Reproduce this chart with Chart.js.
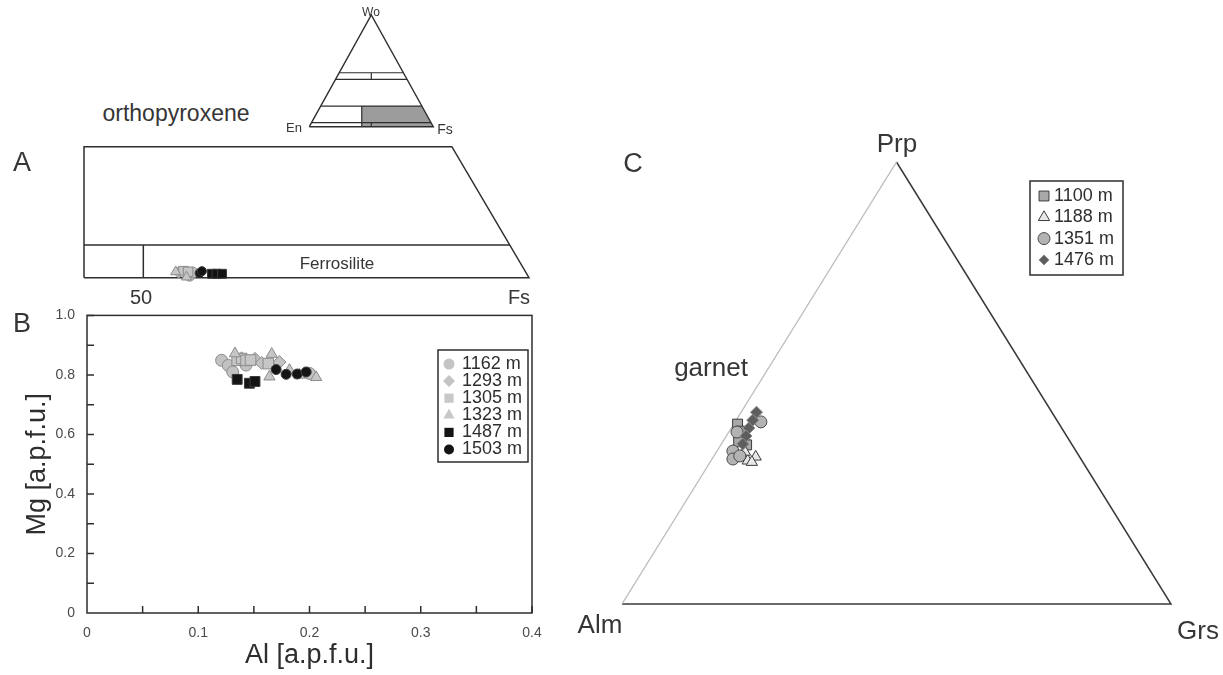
<!DOCTYPE html>
<html>
<head>
<meta charset="utf-8">
<script src="https://cdn.jsdelivr.net/npm/chart.js@4.4.1/dist/chart.umd.min.js"></script>
<style>
  body { margin: 0; background: #fff; width: 1223px; height: 675px; position: relative; overflow: hidden;
         font-family: "Liberation Sans", Arial, sans-serif; color: #363636; }
  canvas { position: absolute; }
  .lbl { position: absolute; white-space: nowrap; line-height: 1; transform: translate(-50%, -50%); }
</style>
</head>
<body>
<canvas id="cTri" width="170" height="140" style="left:290px;top:0px"></canvas>
<canvas id="cA" width="560" height="170" style="left:0px;top:130px"></canvas>
<canvas id="cB" width="560" height="380" style="left:0px;top:295px"></canvas>
<canvas id="cC" width="623" height="545" style="left:600px;top:130px"></canvas>

<div class="lbl" style="left:176px;top:113px;font-size:23px">orthopyroxene</div>
<div class="lbl" style="left:371px;top:12px;font-size:12px">Wo</div>
<div class="lbl" style="left:294px;top:127px;font-size:13px">En</div>
<div class="lbl" style="left:445px;top:129px;font-size:14px">Fs</div>
<div class="lbl" style="left:22px;top:162px;font-size:27px">A</div>
<div class="lbl" style="left:337px;top:263px;font-size:17px">Ferrosilite</div>
<div class="lbl" style="left:141px;top:297px;font-size:20px">50</div>
<div class="lbl" style="left:519px;top:297px;font-size:20px">Fs</div>
<div class="lbl" style="left:22px;top:323px;font-size:27px">B</div>
<div class="lbl" style="left:633px;top:163px;font-size:27px">C</div>
<div class="lbl" style="left:897px;top:143px;font-size:26px">Prp</div>
<div class="lbl" style="left:711px;top:367px;font-size:26px">garnet</div>
<div class="lbl" style="left:600px;top:624px;font-size:26px">Alm</div>
<div class="lbl" style="left:1198px;top:630px;font-size:26px">Grs</div>

<script>
// ---------- data ----------
// orthopyroxene samples (panels A and B)
const opxSamples = ['1162 m', '1293 m', '1305 m', '1323 m', '1487 m', '1503 m'];

// panel B: Al vs Mg [a.p.f.u.]
const al1162 = [0.121, 0.127, 0.131, 0.143, 0.200];
const mg1162 = [0.849, 0.832, 0.810, 0.833, 0.805];
const al1293 = [0.139, 0.151, 0.157, 0.173];
const mg1293 = [0.856, 0.854, 0.840, 0.843];
const al1305 = [0.135, 0.139, 0.143, 0.147, 0.163];
const mg1305 = [0.849, 0.855, 0.849, 0.850, 0.838];
const al1323 = [0.133, 0.166, 0.164, 0.182, 0.191, 0.206];
const mg1323 = [0.872, 0.870, 0.794, 0.816, 0.800, 0.792];
const al1487 = [0.135, 0.146, 0.151];
const mg1487 = [0.785, 0.772, 0.778];
const al1503 = [0.170, 0.179, 0.189, 0.197];
const mg1503 = [0.818, 0.802, 0.803, 0.810];
const alB = [al1162, al1293, al1305, al1323, al1487, al1503];
const mgB = [mg1162, mg1293, mg1305, mg1323, mg1487, mg1503];

// panel A: position along the En-Fs base of the quadrilateral and Wo %
const fsA1162 = [56.0, 56.4];        const woA1162 = [0.3, 0.8];
const fsA1293 = [54.6];              const woA1293 = [0.8];
const fsA1305 = [55.2, 55.8];        const woA1305 = [1.0, 0.9];
const fsA1323 = [54.2, 55.6];        const woA1323 = [0.9, 0.1];
const fsA1487 = [58.9, 59.5, 60.2];  const woA1487 = [0.6, 0.6, 0.6];
const fsA1503 = [57.3, 57.6];        const woA1503 = [0.7, 1.0];
const fsA = [fsA1162, fsA1293, fsA1305, fsA1323, fsA1487, fsA1503];
const woA = [woA1162, woA1293, woA1305, woA1323, woA1487, woA1503];

// classification lines (ternary x, Wo)
const quadBox = [[42.31, 0], [100, 0], [90, 20], [42.31, 20], [42.31, 0]];
const quadWo5 = [[42.31, 5], [97.5, 5]];
const quad50 = [[50, 0], [50, 5]];
const triOutline = [[0, 0], [100, 0], [50, 100], [0, 0]];
const triLines = [
  [[24.15, 48.3], [75.85, 48.3]], [[21.2, 42.4], [78.8, 42.4]], [[50, 42.4], [50, 48.3]],
  [[9.25, 18.5], [90.75, 18.5]], [[1.8, 3.6], [98.2, 3.6]], [[50, 0], [50, 3.6]],
  [[42.3, 0], [42.3, 18.5]]
];
const triShade = [[42.3, 0], [100, 0], [90.75, 18.5], [42.3, 18.5], [42.3, 0]];

// garnet samples (panel C): Prp and Grs mol %, Alm is the rest
const grtSamples = ['1100 m', '1188 m', '1351 m', '1476 m'];
const prp1100 = [40.7, 39.1, 37.6, 36.0, 36.7];
const grs1100 = [0.7, 2.1, 3.4, 4.7, 2.9];
const prp1188 = [32.4, 33.3, 32.1, 34.4];
const grs1188 = [6.7, 7.7, 7.6, 5.2];
const prp1351 = [34.6, 32.8, 33.5, 38.9, 41.2];
const grs1351 = [2.9, 3.8, 4.7, 1.5, 4.7];
const prp1476 = [43.4, 41.6, 39.8, 38.0, 36.2];
const grs1476 = [2.8, 3.0, 3.2, 3.6, 3.9];
const prpC = [prp1100, prp1188, prp1351, prp1476];
const grsC = [grs1100, grs1188, grs1351, grs1476];

// ---------- styles ----------
Chart.defaults.font.family = '"Liberation Sans", Arial, sans-serif';
const opxStyle = [
  { pointStyle: 'circle',   bg: '#c2c2c2', bd: '#8c8c8c', r: 6 },
  { pointStyle: 'rectRot',  bg: '#c2c2c2', bd: '#8c8c8c', r: 6.5 },
  { pointStyle: 'rect',     bg: '#c6c6c6', bd: '#8c8c8c', r: 7.5 },
  { pointStyle: 'triangle', bg: '#c6c6c6', bd: '#8c8c8c', r: 6.5 },
  { pointStyle: 'rect',     bg: '#141414', bd: '#3a3a3a', r: 7 },
  { pointStyle: 'circle',   bg: '#141414', bd: '#3a3a3a', r: 5 }
];
const grtStyle = [
  { pointStyle: 'rect',     bg: '#a9a9a9', bd: '#3c3c3c', r: 7 },
  { pointStyle: 'triangle', bg: '#e8e8e8', bd: '#3c3c3c', r: 6.5 },
  { pointStyle: 'circle',   bg: '#b3b3b3', bd: '#4a4a4a', r: 6 },
  { pointStyle: 'rectRot',  bg: '#5e5e5e', bd: '#8a8a8a', r: 6 }
];
const ink = '#2e2e2e';

function pts(arr) { return arr.map(p => ({ x: p[0], y: p[1] })); }
function lineSet(arr, color, width) {
  return { type: 'line', data: pts(arr), borderColor: color, borderWidth: width, pointRadius: 0,
           fill: false, tension: 0, order: 50, clip: false };
}
function hidden(xmin, xmax, ymin, ymax) {
  return { x: { type: 'linear', min: xmin, max: xmax, display: false },
           y: { type: 'linear', min: ymin, max: ymax, display: false } };
}
const quiet = { legend: { display: false }, tooltip: { enabled: false } };

// legend box drawn on the chart canvas
const boxLegend = {
  id: 'boxLegend',
  afterDraw(chart, args, o) {
    const ctx = chart.ctx;
    ctx.save();
    ctx.lineWidth = 1.5; ctx.strokeStyle = ink;
    ctx.strokeRect(o.x, o.y, o.w, o.h);
    ctx.font = o.size + 'px "Liberation Sans", Arial, sans-serif';
    ctx.textBaseline = 'middle';
    chart.data.datasets.filter(d => d.label).forEach((d, i) => {
      const y = o.y + o.first + i * o.row;
      ctx.fillStyle = o.fill ? o.fill[i] : d.backgroundColor;
      ctx.strokeStyle = d.borderColor;
      ctx.lineWidth = 1;
      Chart.helpers.drawPoint(ctx, { pointStyle: d.pointStyle, radius: o.r[i], rotation: 0,
                                     borderWidth: o.border ? 1.2 : 0 }, o.mx, y);
      ctx.fillStyle = ink;
      ctx.fillText(d.label, o.tx, y);
    });
    ctx.restore();
  }
};

// frame with inward ticks for panel B
const frameTicks = {
  id: 'frameTicks',
  beforeDatasetsDraw(chart) {
    const { ctx, chartArea: a, scales: { x, y } } = chart;
    ctx.save();
    ctx.strokeStyle = ink; ctx.lineWidth = 1.5;
    ctx.strokeRect(a.left, a.top, a.right - a.left, a.bottom - a.top);
    ctx.beginPath();
    for (let v = 0.05; v < 0.4; v += 0.05) {
      const px = x.getPixelForValue(v);
      ctx.moveTo(px, a.bottom); ctx.lineTo(px, a.bottom - 7);
    }
    for (let v = 0.1; v < 1; v += 0.1) {
      const py = y.getPixelForValue(v);
      ctx.moveTo(a.left, py); ctx.lineTo(a.left + 7, py);
    }
    ctx.stroke();
    ctx.restore();
  }
};

function markerSet(label, data, st, i, n) {
  return { label: label, data: data, pointStyle: st.pointStyle, pointRadius: st.r,
           backgroundColor: st.bg, borderColor: st.bd, borderWidth: 1, order: n - i, clip: false };
}

// ---------- small pyroxene triangle ----------
new Chart(document.getElementById('cTri'), {
  type: 'scatter',
  data: { datasets: [
    { type: 'line', data: pts(triShade), borderWidth: 0, backgroundColor: '#9c9c9c', fill: 'shape',
      pointRadius: 0, order: 60, clip: false },
    lineSet(triOutline, ink, 1.4),
    ...triLines.map(l => lineSet(l, ink, 1.2))
  ] },
  options: { responsive: false, animation: false, plugins: quiet,
             layout: { padding: { left: 19.3, right: 26.7, top: 15, bottom: 13.3 } },
             scales: hidden(0, 100, 0, 100) }
});

// ---------- panel A ----------
new Chart(document.getElementById('cA'), {
  type: 'scatter',
  data: { datasets: [
    lineSet(quadBox, ink, 1.5), lineSet(quadWo5, ink, 1.5), lineSet(quad50, ink, 1.5),
    ...opxSamples.map((s, i) => markerSet(s, fsA[i].map((v, j) => ({ x: v, y: woA[i][j] })),
                                          Object.assign({}, opxStyle[i], { r: opxStyle[i].r * 0.9 }), i, 10))
  ] },
  options: { responsive: false, animation: false, plugins: quiet,
             layout: { padding: { left: 84, right: 31, top: 16.7, bottom: 22.3 } },
             scales: hidden(42.31, 100, 0, 20) }
});

// ---------- panel B ----------
const tickFmt = v => (v === 0 ? '0' : v.toFixed(1));
new Chart(document.getElementById('cB'), {
  type: 'scatter',
  data: { datasets: opxSamples.map((s, i) =>
    markerSet(s, alB[i].map((v, j) => ({ x: v, y: mgB[i][j] })), opxStyle[i], i, 10)) },
  options: {
    responsive: false, animation: false,
    layout: { padding: { top: 12, right: 28 } },
    plugins: Object.assign({}, quiet, {
      boxLegend: { x: 438, y: 55, w: 90, h: 112, first: 14, row: 17.1, mx: 449, tx: 462, size: 18,
                   r: [5.5, 6, 6.5, 6.5, 6.5, 5], border: false,
                   fill: ['#c4c4c4', '#c4c4c4', '#c8c8c8', '#c8c8c8', '#141414', '#141414'] }
    }),
    scales: {
      x: { type: 'linear', min: 0, max: 0.4, afterFit(s) { s.height = 62; },
           grid: { display: false, drawTicks: false }, border: { display: false },
           ticks: { stepSize: 0.1, padding: 12, color: '#4a4a4a', font: { size: 14 }, callback: tickFmt },
           title: { display: true, text: 'Al [a.p.f.u.]', color: ink, font: { size: 27 }, padding: { top: 0, bottom: 3 } } },
      y: { type: 'linear', min: 0, max: 1, afterFit(s) { s.width = 87; },
           grid: { display: false, drawTicks: false }, border: { display: false },
           ticks: { stepSize: 0.2, padding: 12, color: '#4a4a4a', font: { size: 14 }, callback: tickFmt },
           title: { display: true, text: 'Mg [a.p.f.u.]', color: ink, font: { size: 27 }, padding: { top: 21, bottom: 0 } } }
    }
  },
  plugins: [frameTicks, boxLegend]
});

// ---------- panel C: garnet ternary ----------
new Chart(document.getElementById('cC'), {
  type: 'scatter',
  data: { datasets: [
    lineSet([[0, 0], [0.5, 1]], '#bdbdbd', 1.4),
    lineSet([[0.5, 1], [1, 0], [0, 0]], '#3a3a3a', 1.5),
    ...grtSamples.map((s, i) => markerSet(s,
      prpC[i].map((p, j) => ({ x: (grsC[i][j] + p / 2) / 100, y: p / 100 })),
      grtStyle[i], i, 10))
  ] },
  options: {
    responsive: false, animation: false,
    layout: { padding: { left: 22, right: 52, top: 32, bottom: 71 } },
    plugins: Object.assign({}, quiet, {
      boxLegend: { x: 430, y: 51, w: 93, h: 94, first: 15, row: 21.3, mx: 444, tx: 454, size: 18,
                   r: [7, 6.5, 6, 5], border: true }
    }),
    scales: hidden(0, 1, 0, 1)
  },
  plugins: [boxLegend]
});
</script>
</body>
</html>
